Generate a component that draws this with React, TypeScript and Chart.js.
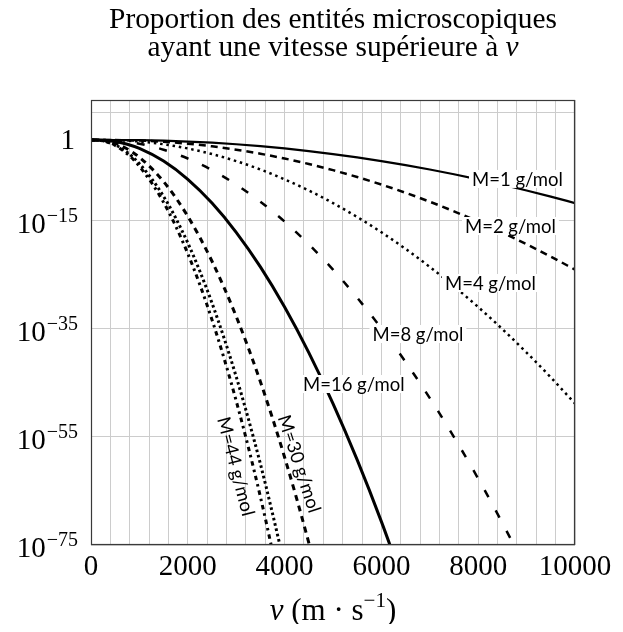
import React, { useEffect, useRef } from "react";
import { Chart, registerables } from "chart.js";

Chart.register(...registerables);

// speeds v (m/s) at which each curve was read
const speeds = [0, 250, 500, 750, 1000, 1500, 2000, 2500, 3000, 3500, 4000, 4500, 5000, 5500, 6000, 6500, 7000, 7500, 8000, 8500, 9000, 9500, 10000];

// log10 of the proportion with speed above v (null = off the chart)
const logM1 = [0, -0.0, -0.006, -0.02, -0.045, -0.136, -0.29, -0.51, -0.797, -1.151, -1.572, -2.059, -2.611, -3.227, -3.91, -4.657, -5.469, -6.346, -7.286, -8.29, -9.358, -10.489, -11.684];
const logM2 = [0, -0.002, -0.017, -0.053, -0.116, -0.337, -0.691, -1.178, -1.8, -2.553, -3.436, -4.447, -5.59, -6.86, -8.259, -9.785, -11.438, -13.217, -15.124, -17.156, -19.315, -21.6, -24.011];
const logM4 = [0, -0.006, -0.045, -0.136, -0.29, -0.797, -1.572, -2.611, -3.91, -5.469, -7.286, -9.358, -11.684, -14.263, -17.096, -20.174, -23.511, -27.099, -30.938, -35.028, -39.37, -43.962, -48.805];
const logM8 = [0, -0.017, -0.116, -0.337, -0.691, -1.8, -3.436, -5.59, -8.259, -11.438, -15.124, -19.315, -24.011, -29.209, -34.911, -41.114, -47.809, -55.015, -62.721, -70.928, -79.635, null, null];
const logM16 = [0, -0.045, -0.29, -0.797, -1.572, -3.91, -7.286, -11.684, -17.096, -23.511, -30.938, -39.37, -48.805, -59.243, -70.672, -83.111, null, null, null, null, null, null, null];
const logM30 = [0, -0.107, -0.639, -1.67, -3.198, -7.712, -14.137, -22.463, -32.678, -44.767, -58.744, -74.589, -92.32, null, null, null, null, null, null, null, null, null, null];
const logM40 = [0, -0.157, -0.904, -2.319, -4.388, -10.459, -19.07, -30.203, -43.839, -59.99, -78.646, null, null, null, null, null, null, null, null, null, null, null, null];
const logM44 = [0, -0.178, -1.012, -2.581, -4.869, -11.56, -21.046, -33.296, -48.315, -66.081, -86.599, null, null, null, null, null, null, null, null, null, null, null, null];

const xGridValues = [0, 400, 800, 1200, 1600, 2000, 2400, 2800, 3200, 3600, 4000, 4400, 4800, 5200, 5600, 6000, 6400, 6800, 7200, 7600, 8000, 8400, 8800, 9200, 9600, 10000];
const xTickLabels = [0, 2000, 4000, 6000, 8000, 10000];
const yGridExponents = [5, -15, -35, -55, -75];
const yTickExponents = [0, -15, -35, -55, -75];

const SERIF = '"Liberation Serif", "DejaVu Serif", serif';
const SANS = 'Lato, "Open Sans", sans-serif';

type Series = { log: (number | null)[]; dash: number[]; width: number };
const series: Series[] = [
  { log: logM1, dash: [], width: 2.2 },
  { log: logM2, dash: [7, 5], width: 2.5 },
  { log: logM4, dash: [2.5, 3.8], width: 2.5 },
  { log: logM8, dash: [8, 15], width: 2.5 },
  { log: logM16, dash: [], width: 3 },
  { log: logM30, dash: [6, 5], width: 3 },
  { log: logM40, dash: [2.6, 2.8], width: 3 },
  { log: logM44, dash: [4.5, 4, 2.5, 4], width: 3 },
];

// curve labels: anchor in data coordinates (v, log10 P)
const curveLabels = [
  { text: "M=1 g/mol", v: 7872, e: -7.22, angle: 0 },
  { text: "M=2 g/mol", v: 7727, e: -15.93, angle: 0 },
  { text: "M=4 g/mol", v: 7314, e: -26.48, angle: 0 },
  { text: "M=8 g/mol", v: 5816, e: -35.93, angle: 0 },
  { text: "M=16 g/mol", v: 4380, e: -45.19, angle: 0 },
  { text: "M=30 g/mol", v: 4298, e: -60.0, angle: 71.9 },
  { text: "M=44 g/mol", v: 2986, e: -60.46, angle: 75.5 },
];

const decorPlugin = {
  id: "decor",
  afterDatasetsDraw(chart: any) {
    const ctx: CanvasRenderingContext2D = chart.ctx;
    const xs = chart.scales.x;
    const ys = chart.scales.y;
    const a = chart.chartArea;
    ctx.save();

    // curve labels
    ctx.font = `16px ${SANS}`;
    const ref = ctx.measureText("M=1 g/mol").width;
    const lsize = (16 * 91) / ref;
    ctx.font = `${lsize}px ${SANS}`;
    ctx.textBaseline = "middle";
    for (const l of curveLabels) {
      const px = xs.getPixelForValue(l.v);
      const py = ys.getPixelForValue(Math.pow(10, l.e));
      const w = ctx.measureText(l.text).width;
      if (l.angle === 0) {
        ctx.fillStyle = "#ffffff";
        ctx.fillRect(px - 3, py - 9, w + 6, 18);
        ctx.fillStyle = "#000000";
        ctx.textAlign = "left";
        ctx.fillText(l.text, px, py + 1);
      } else {
        ctx.save();
        ctx.translate(px, py);
        ctx.rotate((l.angle * Math.PI) / 180);
        ctx.fillStyle = "#000000";
        ctx.textAlign = "center";
        ctx.fillText(l.text, 0, 0);
        ctx.restore();
      }
    }

    // frame
    ctx.strokeStyle = "#3a3a3a";
    ctx.lineWidth = 1.2;
    ctx.strokeRect(a.left + 0.5, a.top + 0.5, a.right - a.left - 1, a.bottom - a.top - 1);

    ctx.fillStyle = "#000000";
    // y tick labels
    const base = 29;
    const sup = 20;
    for (const e of yTickExponents) {
      const gy = ys.getPixelForValue(Math.pow(10, e));
      ctx.textBaseline = "alphabetic";
      if (e === 0) {
        ctx.font = `${base}px ${SERIF}`;
        ctx.textAlign = "right";
        ctx.fillText("1", 67, gy + 9);
      } else {
        const supText = "\u2212" + String(-e);
        ctx.font = `${sup}px ${SERIF}`;
        const sw = ctx.measureText(supText).width;
        ctx.textAlign = "left";
        ctx.fillText(supText, 70 - sw, gy + 1);
        ctx.font = `${base}px ${SERIF}`;
        ctx.textAlign = "right";
        ctx.fillText("10", 70 - sw - 1, gy + 12);
      }
    }

    // x tick labels
    ctx.font = `${base}px ${SERIF}`;
    ctx.textAlign = "center";
    ctx.textBaseline = "alphabetic";
    for (const v of xTickLabels) {
      ctx.fillText(String(v), xs.getPixelForValue(v), a.bottom + 30);
    }

    // x axis title: v (m · s^-1)
    const cx = (a.left + a.right) / 2;
    const by = 612;
    const parts: { t: string; f: string; dy: number }[] = [
      { t: "v", f: `italic 31px ${SERIF}`, dy: 0 },
      { t: " (m \u00b7 s", f: `31px ${SERIF}`, dy: 0 },
      { t: "\u22121", f: `21px ${SERIF}`, dy: -13 },
      { t: ")", f: `31px ${SERIF}`, dy: 0 },
    ];
    let total = 0;
    for (const p of parts) {
      ctx.font = p.f;
      total += ctx.measureText(p.t).width;
    }
    let x0 = cx - total / 2;
    ctx.textAlign = "left";
    for (const p of parts) {
      ctx.font = p.f;
      ctx.fillText(p.t, x0, by + p.dy);
      x0 += ctx.measureText(p.t).width;
    }

    // title
    const line1 = "Proportion des entit\u00e9s microscopiques";
    ctx.font = `24px ${SERIF}`;
    const tw = ctx.measureText(line1).width;
    const tsize = (24 * 448) / tw;
    ctx.font = `${tsize}px ${SERIF}`;
    ctx.textAlign = "center";
    ctx.fillText(line1, cx, 20);
    const l2a = "ayant une vitesse sup\u00e9rieure \u00e0 ";
    const w2a = ctx.measureText(l2a).width;
    ctx.font = `italic ${tsize}px ${SERIF}`;
    const w2b = ctx.measureText("v").width;
    const start = cx - (w2a + w2b) / 2;
    ctx.textAlign = "left";
    ctx.font = `${tsize}px ${SERIF}`;
    ctx.fillText(l2a, start, 48);
    ctx.font = `italic ${tsize}px ${SERIF}`;
    ctx.fillText("v", start + w2a, 48);

    ctx.restore();
  },
};

export default function App() {
  const ref = useRef<HTMLCanvasElement | null>(null);
  useEffect(() => {
    if (!ref.current) return;
    const datasets = series.map((s) => ({
      data: speeds
        .map((v, i) => ({ x: v, y: s.log[i] }))
        .filter((p) => p.y !== null)
        .map((p) => ({ x: p.x, y: Math.pow(10, p.y as number) })),
      borderColor: "#000000",
      backgroundColor: "#000000",
      borderWidth: s.width,
      borderDash: s.dash,
      borderCapStyle: "butt" as const,
      pointRadius: 0,
      fill: false,
      cubicInterpolationMode: "monotone" as const,
      clip: 0,
    }));
    const chart = new Chart(ref.current, {
      type: "line",
      data: { datasets },
      options: {
        animation: false,
        responsive: false,
        layout: { padding: { left: 0, right: 40, top: 92, bottom: 0 } },
        plugins: {
          legend: { display: false },
          tooltip: { enabled: false },
          title: { display: false },
        },
        scales: {
          x: {
            type: "linear",
            min: 0,
            max: 10000,
            afterBuildTicks: (s: any) => {
              s.ticks = xGridValues.map((v) => ({ value: v }));
            },
            ticks: { display: false, autoSkip: false },
            grid: { color: "#cccccc", lineWidth: 1, drawTicks: false },
            border: { display: false },
            afterFit: (s: any) => {
              s.height = 79;
            },
          },
          y: {
            type: "logarithmic",
            min: 1e-75,
            max: Math.pow(10, 7.4),
            afterBuildTicks: (s: any) => {
              s.ticks = yGridExponents.map((e) => ({ value: Math.pow(10, e) }));
            },
            ticks: { display: false, autoSkip: false },
            grid: { color: "#cccccc", lineWidth: 1, drawTicks: false },
            border: { display: false },
            afterFit: (s: any) => {
              s.width = 83;
            },
          },
        },
      } as any,
      plugins: [decorPlugin],
    });
    return () => chart.destroy();
  }, []);
  return (
    <div style={{ width: 607, height: 616 }}>
      <canvas ref={ref} width={607} height={616} style={{ display: "block" }} />
    </div>
  );
}
